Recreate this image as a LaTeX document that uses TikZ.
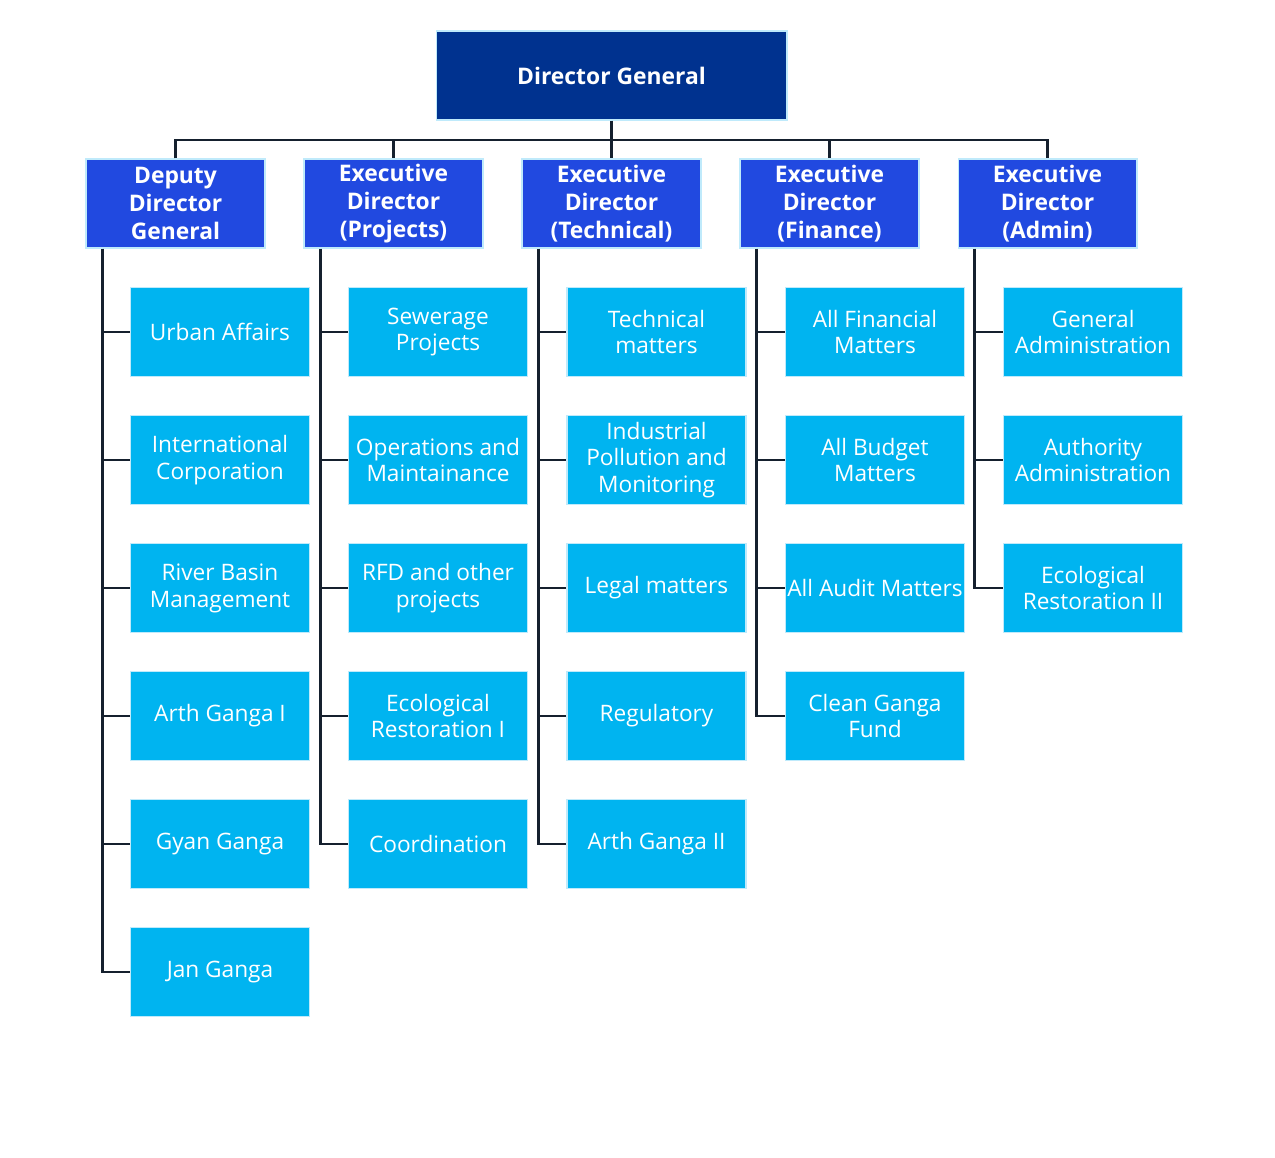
\documentclass[tikz,border=0pt]{standalone}
\usepackage{fontspec}
\setmainfont{Open Sans}
\begin{document}
\begin{tikzpicture}[x=0.02cm,y=-0.02cm,
  base/.style={rectangle, draw=white!75!cyan, line width=0.6pt, inner sep=0pt, text=white, align=center},
  topbox/.style={base, fill=dgblue, minimum width=7.02cm, minimum height=1.78cm, font=\fontsize{13}{15.9}\selectfont\bfseries},
  midbox/.style={base, fill=edblue, minimum width=3.58cm, minimum height=1.78cm, font=\fontsize{13}{15.9}\selectfont\bfseries},
  leaf/.style={base, fill=leafcyan, minimum width=3.58cm, minimum height=1.78cm, font=\fontsize{12.9}{15.3}\selectfont},
  conn/.style={draw=linecol, line width=1.2pt}
]
\definecolor{dgblue}{HTML}{00328F}
\definecolor{edblue}{HTML}{2149E0}
\definecolor{leafcyan}{HTML}{00B4F0}
\definecolor{linecol}{HTML}{15202E}
\useasboundingbox (0,0) rectangle (1275,1158);
\fill[white] (0,0) rectangle (1275,1158);

\node[topbox] (dg) at (611.5,75.5) {Director General};

\node[midbox] (m1) at (175.5,203.5) {Deputy\\Director\\General};
\node[midbox] (m2) at (393.5,203.5) {Executive\\Director\\(Projects)};
\node[midbox] (m3) at (611.5,203.5) {Executive\\Director\\(Technical)};
\node[midbox] (m4) at (829.5,203.5) {Executive\\Director\\(Finance)};
\node[midbox] (m5) at (1047.5,203.5) {Executive\\Director\\(Admin)};

\coordinate (bus) at (611.5,140);
\draw[conn] (dg.south) -- (bus);
\draw[conn] (m1.north) |- (m5.north |- bus) -- (m5.north);
\foreach \m in {m2,m3,m4} \draw[conn] (\m.north |- bus) -- (\m.north);

% column 1
\node[leaf] (a1) at (220,332) {Urban Affairs};
\node[leaf] (a2) at (220,460) {International\\Corporation};
\node[leaf] (a3) at (220,588) {River Basin\\Management};
\node[leaf] (a4) at (220,716) {Arth Ganga I};
\node[leaf] (a5) at (220,844) {Gyan Ganga};
\node[leaf] (a6) at (220,972) {Jan Ganga};
% column 2
\node[leaf] (b1) at (438,332) {Sewerage\\Projects};
\node[leaf] (b2) at (438,460) {Operations and\\Maintainance};
\node[leaf] (b3) at (438,588) {RFD and other\\projects};
\node[leaf] (b4) at (438,716) {Ecological\\Restoration I};
\node[leaf] (b5) at (438,844) {Coordination};
% column 3
\node[leaf] (c1) at (656.5,332) {Technical\\matters};
\node[leaf] (c2) at (656.5,460) {Industrial\\Pollution and\\Monitoring};
\node[leaf] (c3) at (656.5,588) {Legal matters};
\node[leaf] (c4) at (656.5,716) {Regulatory};
\node[leaf] (c5) at (656.5,844) {Arth Ganga II};
% column 4
\node[leaf] (d1) at (875,332) {All Financial\\Matters};
\node[leaf] (d2) at (875,460) {All Budget\\Matters};
\node[leaf] (d3) at (875,588) {All Audit Matters};
\node[leaf] (d4) at (875,716) {Clean Ganga\\Fund};
% column 5
\node[leaf] (e1) at (1093,332) {General\\Administration};
\node[leaf] (e2) at (1093,460) {Authority\\Administration};
\node[leaf] (e3) at (1093,588) {Ecological\\Restoration II};

% trunks
\coordinate (ta) at ([xshift=0.34cm]m1.south west);
\coordinate (tb) at ([xshift=0.34cm]m2.south west);
\coordinate (tc) at ([xshift=0.34cm]m3.south west);
\coordinate (td) at ([xshift=0.34cm]m4.south west);
\coordinate (te) at ([xshift=0.34cm]m5.south west);

\draw[conn] (ta) |- (a6.west);
\foreach \n in {a1,a2,a3,a4,a5} \draw[conn] (ta |- \n.west) -- (\n.west);
\draw[conn] (tb) |- (b5.west);
\foreach \n in {b1,b2,b3,b4} \draw[conn] (tb |- \n.west) -- (\n.west);
\draw[conn] (tc) |- (c5.west);
\foreach \n in {c1,c2,c3,c4} \draw[conn] (tc |- \n.west) -- (\n.west);
\draw[conn] (td) |- (d4.west);
\foreach \n in {d1,d2,d3} \draw[conn] (td |- \n.west) -- (\n.west);
\draw[conn] (te) |- (e3.west);
\foreach \n in {e1,e2} \draw[conn] (te |- \n.west) -- (\n.west);
\end{tikzpicture}
\end{document}
